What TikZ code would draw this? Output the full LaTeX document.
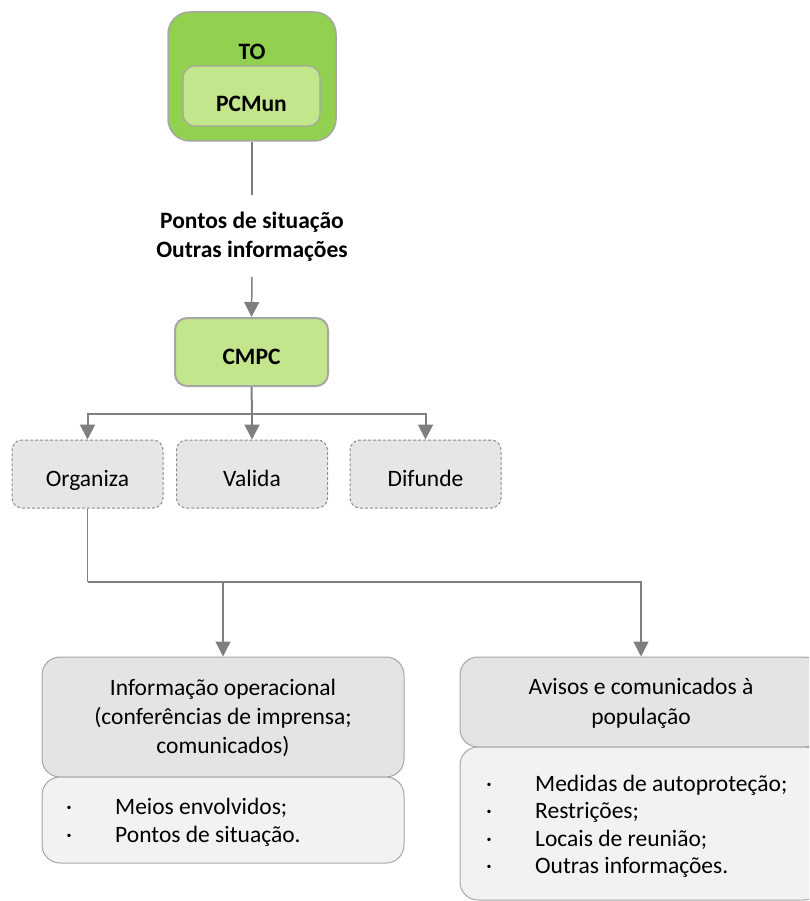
\documentclass[tikz,border=0pt]{standalone}
\usepackage{fontspec}
\setmainfont{Carlito}
\usetikzlibrary{arrows.meta}
\definecolor{tgreen}{HTML}{92D050}
\definecolor{lgreen}{HTML}{C3E58B}
\definecolor{bordgray}{HTML}{A6A6A6}
\definecolor{arrgray}{HTML}{7F7F7F}
\definecolor{boxgray}{HTML}{E6E6E6}
\definecolor{dashgray}{HTML}{8C8C8C}
\definecolor{hdrgray}{HTML}{E4E4E4}
\definecolor{lstgray}{HTML}{F2F2F2}
\tikzset{
  txt/.style={inner sep=0pt, anchor=base},
  ltxt/.style={inner sep=0pt, anchor=base west},
  greenbox/.style={draw=bordgray, rounded corners=12pt, inner sep=0pt},
  actbox/.style={draw=dashgray, fill=boxgray, dash pattern=on 3pt off 2pt, line width=1pt, rounded corners=10pt, minimum width=151pt, minimum height=68pt, inner sep=0pt},
  hdrbox/.style={draw=bordgray, fill=hdrgray, line width=1pt, rounded corners=18pt, inner sep=0pt},
  lstbox/.style={draw=bordgray, fill=lstgray, line width=1pt, rounded corners=18pt, inner sep=0pt},
  arr/.style={draw=arrgray, -{Triangle[width=15pt,length=15pt]}},
  conn/.style={draw=arrgray},
}
\begin{document}
\begin{tikzpicture}[x=1pt,y=-1pt,font=\fontsize{23.5}{29}\selectfont]
\useasboundingbox (0,0) rectangle (809,901);
\clip (0,0) rectangle (809,901);
% TO / PCMun
\node[greenbox, fill=tgreen, line width=1.5pt, rounded corners=22pt, minimum width=168pt, minimum height=129pt] (to) at (252,76.5) {};
\node[txt] (tolabel) at (252,60) {\bfseries TO};
\node[greenbox, fill=lgreen, line width=1.2pt, minimum width=137pt, minimum height=60pt] (pcmun) at (251.5,96) {};
\node[txt] (pcmunlabel) at (251.5,112) {\bfseries PCMun};
% message
\coordinate (a1) at (252,195);
\coordinate (a2) at (252,277);
\node[txt] (msg1) at (252,229) {\bfseries Pontos de situação};
\node[txt] (msg2) at (252,258) {\bfseries Outras informações};
% CMPC
\node[greenbox, fill=lgreen, line width=2pt, minimum width=153pt, minimum height=68pt] (cmpc) at (251.5,352) {};
\node[txt] (cmpclabel) at (251.5,364) {\bfseries CMPC};
% actions
\node[actbox] (org) at (87.5,474) {};
\node[txt] (orglabel) at (87.5,486) {Organiza};
\node[actbox] (val) at (252,474) {};
\node[txt] (vallabel) at (252,486) {Valida};
\node[actbox] (dif) at (425.5,474) {};
\node[txt] (diflabel) at (425.5,486) {Difunde};
% bottom left
\node[hdrbox, minimum width=362pt, minimum height=120pt] (info) at (223,717) {};
\node[txt] (info1) at (223,695.5) {Informação operacional};
\node[txt] (info2) at (223,724.5) {(conferências de imprensa;};
\node[txt] (info3) at (223,753.5) {comunicados)};
\node[lstbox, minimum width=362pt, minimum height=86pt] (infol) at (223,820) {};
\node[ltxt] (il1) at (66,814.5) {\makebox[49pt][l]{·}Meios envolvidos;};
\node[ltxt] (il2) at (66,842.5) {\makebox[49pt][l]{·}Pontos de situação.};
% bottom right
\node[hdrbox, minimum width=362pt, minimum height=90pt] (avh) at (641,702) {};
\node[txt] (av1) at (641,694.5) {Avisos e comunicados à};
\node[txt] (av2) at (641,724.5) {população};
\node[lstbox, minimum width=362pt, minimum height=153pt] (avl) at (641,823.5) {};
\node[ltxt] (al1) at (486,791) {\makebox[49pt][l]{·}Medidas de autoproteção;};
\node[ltxt] (al2) at (486,818.5) {\makebox[49pt][l]{·}Restrições;};
\node[ltxt] (al3) at (486,846) {\makebox[49pt][l]{·}Locais de reunião;};
\node[ltxt] (al4) at (486,873.5) {\makebox[49pt][l]{·}Outras informações.};
% connectors
\draw[conn, line width=1.3pt] (to.south) -- (a1);
\draw[arr, line width=1.5pt] (a2) -- (cmpc.north);
\coordinate (br) at (252,414);
\draw[conn, line width=2pt] (cmpc.south) -- (br);
\draw[arr, line width=2pt] (br) -| (org.north);
\draw[arr, line width=2pt] (br) -- (val.north);
\draw[arr, line width=2pt] (br) -| (dif.north);
\coordinate (bj) at (87.5,582);
\draw[conn, line width=1.6pt] (org.south) -- (bj);
\draw[arr, line width=1.3pt] (bj) -| (info.north);
\draw[arr, line width=1.3pt] (bj) -| (avh.north);
\end{tikzpicture}
\end{document}
